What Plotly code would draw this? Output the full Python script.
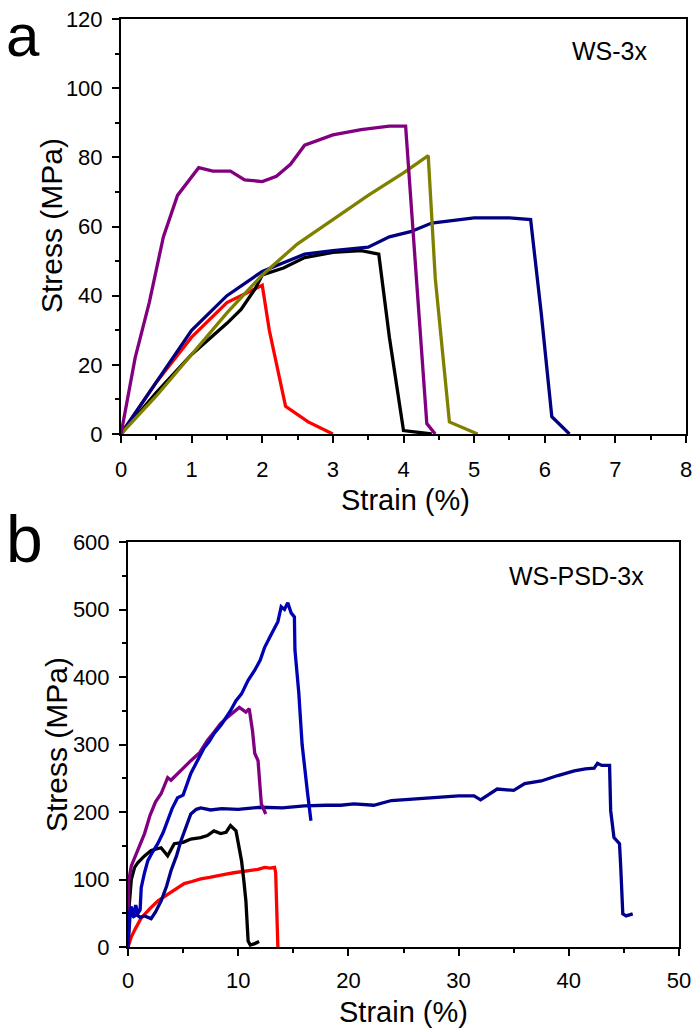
import plotly.graph_objects as go

# ---------- Panel a: WS-3x ----------
a_purple_x = [0, 0.2, 0.4, 0.6, 0.8, 1.1, 1.3, 1.55, 1.75, 2.0, 2.2, 2.4, 2.6, 3.0, 3.4, 3.8, 4.03, 4.1, 4.2, 4.33, 4.45]
a_purple_y = [0, 22, 38, 57, 69, 77, 76, 76, 73.5, 73, 74.5, 78, 83.5, 86.5, 88, 89, 89, 70, 40, 3, 0]

a_olive_x = [0, 0.5, 1.0, 1.5, 2.0, 2.5, 3.0, 3.5, 4.0, 4.35, 4.45, 4.65, 5.05]
a_olive_y = [0, 11, 23, 35, 46, 55, 62, 69, 75.5, 80.5, 45, 3.5, 0]

a_navy_x = [0, 0.5, 1.0, 1.5, 2.0, 2.3, 2.6, 3.0, 3.5, 3.8, 4.1, 4.4, 5.0, 5.5, 5.8, 5.95, 6.1, 6.35]
a_navy_y = [0, 15, 30, 40, 47, 49.5, 52, 53, 54, 57, 58.5, 61, 62.5, 62.5, 62, 35, 5, 0]

a_black_x = [0, 0.5, 1.0, 1.5, 1.7, 1.9, 2.0, 2.3, 2.6, 3.0, 3.4, 3.65, 3.8, 4.0, 4.4]
a_black_y = [0, 12, 23, 32, 36, 42, 46, 48, 51, 52.5, 53, 52, 28, 1, 0]

a_red_x = [0, 0.5, 1.0, 1.2, 1.5, 1.8, 2.0, 2.1, 2.33, 2.65, 3.0]
a_red_y = [0, 15, 28, 32, 38, 41, 43, 30, 8, 3.5, 0]

# ---------- Panel b: WS-PSD-3x ----------
b_blue_x = [0, 0.1, 0.3, 0.5, 0.7, 0.9, 1.1, 1.2, 1.5, 1.8, 2.2, 2.7, 3.2, 3.6, 4.0, 4.5, 5.0, 5.7, 6.3, 6.9, 7.4, 7.8, 8.5, 9.3, 9.8, 10.3, 10.9, 11.5, 12.0, 12.4, 12.9, 13.3, 13.6, 13.9, 14.2, 14.5, 14.8, 15.1, 15.15, 15.5, 15.8, 16.3, 16.6]
b_blue_y = [0, 50, 60, 45, 62, 50, 55, 88, 110, 128, 140, 153, 170, 187, 205, 221, 225, 257, 277, 295, 305, 316, 330, 350, 365, 375, 395, 410, 425, 444, 460, 474, 482, 504, 500, 510, 495, 489, 440, 376, 300, 227, 187]

b_purple_x = [0, 0.06, 0.3, 0.6, 1.0, 1.5, 2.0, 2.5, 3.0, 3.6, 3.9, 4.8, 5.7, 6.5, 7.2, 7.8, 8.4, 9.0, 9.6, 10.1, 10.7, 11.0, 11.3, 11.5, 11.8, 12.1, 12.5]
b_purple_y = [0, 98, 120, 132, 150, 168, 195, 215, 227, 251, 247, 262, 276, 288, 306, 318, 331, 340, 348, 355, 348, 353, 320, 287, 276, 212, 197]

b_navy_x = [0, 0.2, 0.5, 0.8, 1.1, 1.5, 2.1, 2.5, 3.0, 3.5, 3.9, 4.4, 4.8, 5.3, 5.7, 6.2, 6.6, 7.5, 8.5, 10.0, 12.0, 14.0, 16.0, 18.0, 19.3, 20.5, 22.3, 23.9, 26.0, 28.4, 30.0, 31.4, 32.0, 33.5, 35.0, 36.0, 37.5, 39.0, 40.5, 41.5, 42.3, 42.6, 43.0, 43.7, 43.8, 44.1, 44.6, 44.7, 44.9, 45.2, 45.8]
b_navy_y = [0, 50, 45, 48, 44, 46, 42, 52, 68, 90, 113, 135, 157, 178, 197, 204, 206, 203, 205, 204, 207, 206, 209, 210, 210, 212, 210, 217, 219, 222, 224, 224, 218, 234, 232, 242, 246, 254, 261, 264, 265, 272, 269, 269, 202, 162, 153, 123, 49, 46, 49]

b_black_x = [0, 0.1, 0.3, 0.6, 0.9, 1.5, 2.1, 3.0, 3.6, 4.2, 5.0, 5.7, 6.6, 7.2, 7.8, 8.4, 8.9, 9.3, 9.8, 10.3, 10.5, 10.7, 10.9, 11.1, 11.5, 11.9]
b_black_y = [0, 60, 100, 118, 125, 135, 143, 147, 135, 153, 155, 160, 162, 165, 172, 168, 170, 180, 172, 128, 100, 68, 9, 3, 5, 8]

b_red_x = [0, 0.3, 0.7, 1.2, 2.0, 2.7, 3.6, 4.4, 5.1, 5.8, 6.6, 7.4, 8.2, 8.9, 9.6, 10.4, 11.2, 11.8, 12.4, 12.9, 13.3, 13.4, 13.6]
b_red_y = [0, 15, 28, 43, 57, 68, 78, 86, 94, 97, 101, 103, 106, 108, 110, 112, 113, 115, 118, 117, 118, 110, 0]

FONT = "Liberation Sans, Arial, sans-serif"

fig = go.Figure()

series_a = [
    (a_red_x, a_red_y, "#ff0000"),
    (a_black_x, a_black_y, "#000000"),
    (a_navy_x, a_navy_y, "#000080"),
    (a_olive_x, a_olive_y, "#808000"),
    (a_purple_x, a_purple_y, "#800080"),
]
for x, y, c in series_a:
    fig.add_trace(go.Scatter(x=x, y=y, mode="lines", line=dict(color=c, width=3.3),
                             xaxis="x", yaxis="y", showlegend=False, hoverinfo="skip"))

series_b = [
    (b_red_x, b_red_y, "#ff0000"),
    (b_black_x, b_black_y, "#000000"),
    (b_navy_x, b_navy_y, "#00008b"),
    (b_purple_x, b_purple_y, "#800080"),
    (b_blue_x, b_blue_y, "#0000b4"),
]
for x, y, c in series_b:
    fig.add_trace(go.Scatter(x=x, y=y, mode="lines", line=dict(color=c, width=3.3),
                             xaxis="x2", yaxis="y2", showlegend=False, hoverinfo="skip"))

W, H = 700, 1032

def ax(domain, rng, dtick, minor, anchor, standoff):
    return dict(
        domain=domain, range=rng, dtick=dtick, tick0=0,
        showline=True, linecolor="#000", linewidth=2, mirror=True,
        ticks="outside", ticklen=7, tickwidth=2, tickcolor="#000",
        minor=dict(dtick=minor, ticks="outside", ticklen=4, tickwidth=2, tickcolor="#000", showgrid=False),
        showgrid=False, zeroline=False, anchor=anchor, automargin=False,
        ticklabelstandoff=standoff, fixedrange=True,
        tickfont=dict(family=FONT, size=22, color="#000"),
    )

def txt(s, x, y, size, xanchor="center", yanchor="middle", angle=0):
    return dict(text=s, x=x / W, y=1 - y / H, xref="paper", yref="paper",
                xanchor=xanchor, yanchor=yanchor, textangle=angle, showarrow=False,
                font=dict(family=FONT, size=size, color="#000"))

fig.update_layout(
    width=W, height=H,
    margin=dict(l=0, r=0, t=0, b=0),
    paper_bgcolor="white", plot_bgcolor="white",
    xaxis=ax([121 / W, 686 / W], [0, 8], 1, 0.5, "y", 8),
    yaxis=ax([1 - 434 / H, 1 - 19 / H], [0, 120], 20, 10, "x", 5),
    xaxis2=ax([128 / W, 679 / W], [0, 50], 10, 5, "y2", 6),
    yaxis2=ax([1 - 947 / H, 1 - 542 / H], [0, 600], 100, 50, "x2", 5),
    annotations=[
        txt("a", 4, 0, 60, xanchor="left", yanchor="top"),
        txt("b", 4, 500, 66, xanchor="left", yanchor="top"),
        txt("WS-3x", 650, 51, 25, xanchor="right"),
        txt("WS-PSD-3x", 646, 576, 25, xanchor="right"),
        txt("Strain (%)", 405, 500, 29),
        txt("Strain (%)", 403, 1012, 29),
        txt("Stress (MPa)", 52, 226, 30, angle=-90),
        txt("Stress (MPa)", 56, 745, 30, angle=-90),
    ],
)

fig.write_html("out.html", config={"displayModeBar": False},
               post_script="document.body.style.margin='0px';document.body.style.padding='0px';")
